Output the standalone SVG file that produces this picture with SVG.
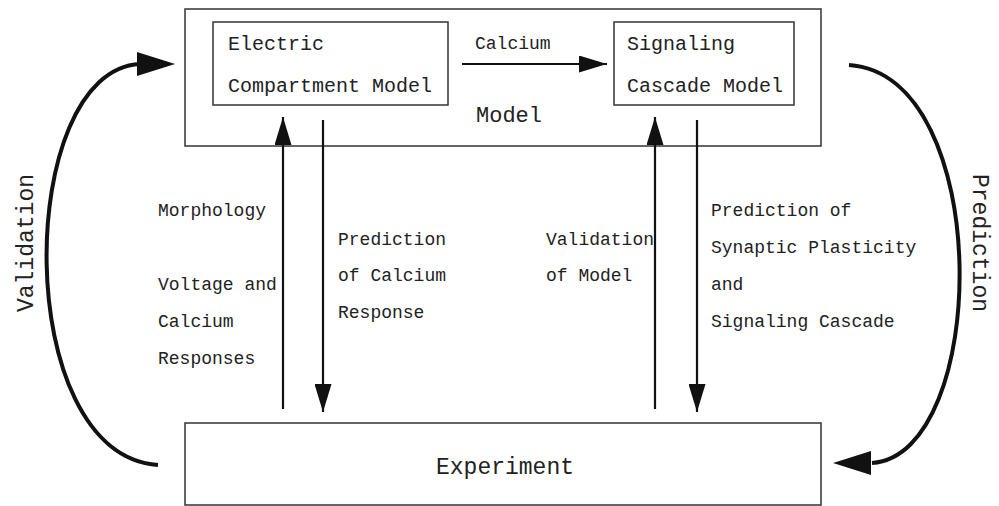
<svg xmlns="http://www.w3.org/2000/svg" width="999" height="506" viewBox="0 0 999 506">
<style>
text{font-family:"Liberation Mono","DejaVu Sans Mono",monospace;fill:#222}
.box{fill:#fff;stroke:#333;stroke-width:1.5}
.lbl{font-size:18px}
.bx{font-size:20px}
.v{stroke:#111;stroke-width:2.2;fill:none}
.c{stroke:#111;stroke-width:4;fill:none}
</style>
<defs>
<marker id="ah" viewBox="0 0 10 10" refX="10" refY="5" markerWidth="16" markerHeight="16" markerUnits="userSpaceOnUse" orient="auto" preserveAspectRatio="none">
<path d="M0,0 L10,5 L0,10 Z" fill="#111"/>
</marker>
<marker id="ahh" viewBox="0 0 26 16" refX="26" refY="8" markerWidth="28" markerHeight="17" markerUnits="userSpaceOnUse" orient="auto" preserveAspectRatio="none">
<path d="M0,0 L26,8 L0,16 Z" fill="#111"/>
</marker>
<marker id="big" viewBox="0 0 38 24" refX="38" refY="12" markerWidth="38" markerHeight="26" markerUnits="userSpaceOnUse" orient="auto" preserveAspectRatio="none">
<path d="M0,0 L38,12 L0,24 Z" fill="#111"/>
</marker>
</defs>
<g id="model">
<rect class="box" x="185" y="9" width="636" height="137"/>
<text x="476" y="122" style="font-size:22px">Model</text>
</g>
<g id="electric">
<rect class="box" x="213" y="22" width="235" height="83"/>
<text class="bx" x="228" y="50">Electric</text>
<text class="bx" x="228" y="92">Compartment Model</text>
</g>
<g id="signaling">
<rect class="box" x="614" y="22" width="180" height="83"/>
<text class="bx" x="627" y="50">Signaling</text>
<text class="bx" x="627" y="92">Cascade Model</text>
</g>
<g id="experiment">
<rect class="box" x="185" y="423" width="636" height="82"/>
<text x="505" y="474" text-anchor="middle" style="font-size:23px">Experiment</text>
</g>
<g id="connectors">
<path class="v" d="M462,64 H607" marker-end="url(#ahh)"/>
<path class="v" d="M283,409 V117" marker-end="url(#ahh)"/>
<path class="v" d="M323,120 V412" marker-end="url(#ahh)"/>
<path class="v" d="M655,409 V117" marker-end="url(#ahh)"/>
<path class="v" d="M697,120 V412" marker-end="url(#ahh)"/>
<path class="c" d="M158,465 C10,455 15,70 140,64" />
<path d="M137,52 L175,64 L137,76 Z" fill="#111"/>
<path class="c" d="M849,65 C995,75 990,455 872,463"/>
<path d="M871,451 L833,463 L871,475 Z" fill="#111"/>
</g>
<g id="labels">
<text x="475" y="49" style="font-size:18px">Calcium</text>
<text class="lbl" x="158" y="216">Morphology</text>
<text class="lbl" x="158" y="290">Voltage and</text>
<text class="lbl" x="158" y="327">Calcium</text>
<text class="lbl" x="158" y="364">Responses</text>
<text class="lbl" x="338" y="245">Prediction</text>
<text class="lbl" x="338" y="281">of Calcium</text>
<text class="lbl" x="338" y="318">Response</text>
<text class="lbl" x="546" y="245">Validation</text>
<text class="lbl" x="546" y="281">of Model</text>
<text class="lbl" x="711" y="216">Prediction of</text>
<text class="lbl" x="711" y="253">Synaptic Plasticity</text>
<text class="lbl" x="711" y="290">and</text>
<text class="lbl" x="711" y="327">Signaling Cascade</text>
<text transform="translate(33,243) rotate(-90)" text-anchor="middle" style="font-size:23px">Validation</text>
<text transform="translate(973,243) rotate(90)" text-anchor="middle" style="font-size:23px">Prediction</text>
</g>
</svg>
